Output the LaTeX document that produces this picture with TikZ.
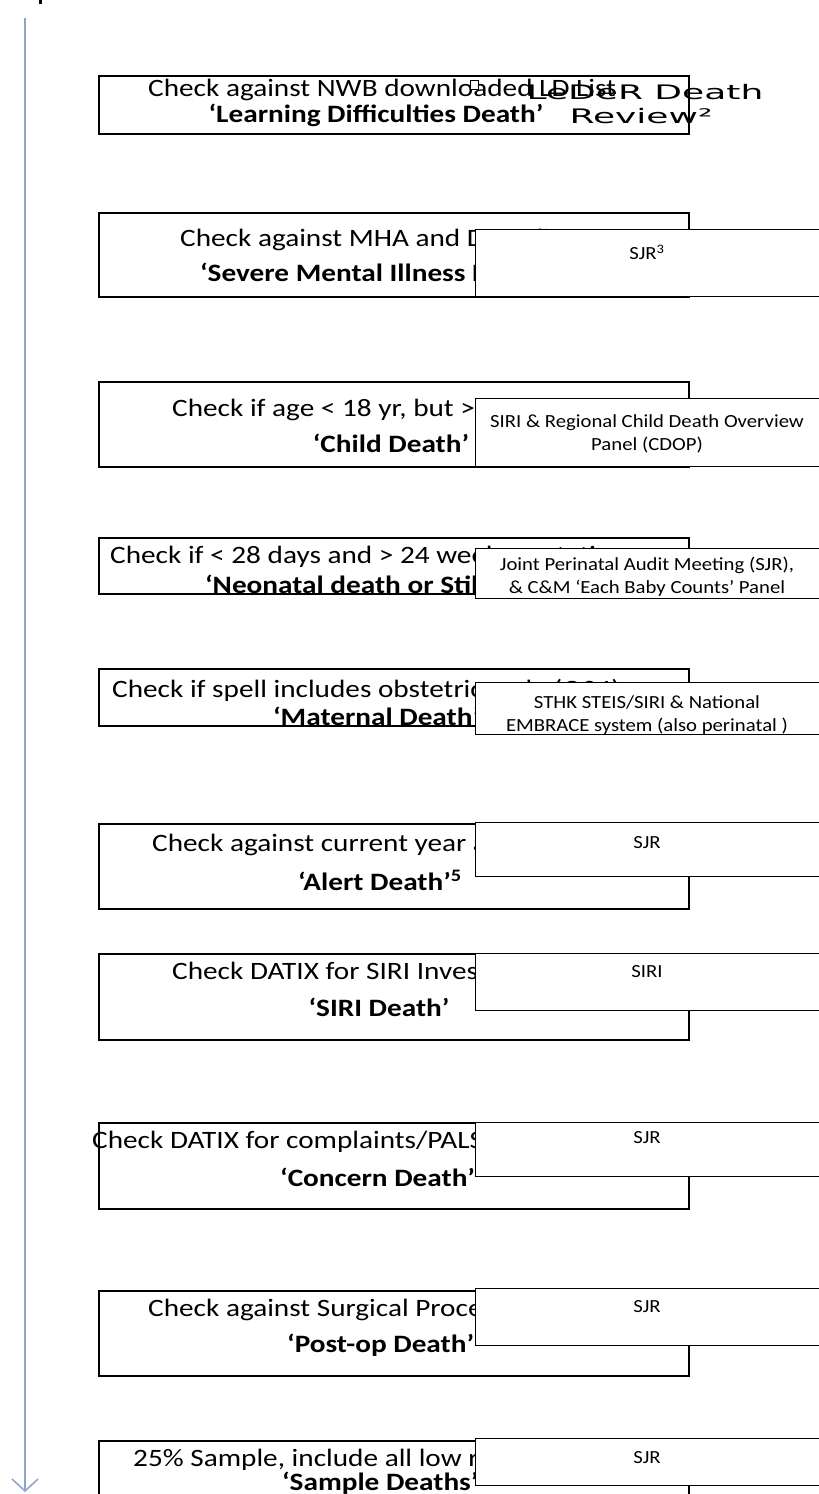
\documentclass[tikz,border=0pt]{standalone}
\usepackage{fontspec}
\setmainfont{Carlito}
\newfontfamily\djv{DejaVu Sans}
\usetikzlibrary{arrows.meta}
\newcommand{\hs}[1]{\scalebox{1.17}[1]{#1}}
\newcommand{\rs}[1]{\scalebox{1.12}[1]{#1}}
\newcommand{\ws}[1]{\scalebox{1.8}[1]{#1}}
\begin{document}
\begin{tikzpicture}[x=1pt,y=-1pt,
  lbox/.style={draw=black, line width=1.8pt, fill=white, inner sep=0, anchor=north west, minimum width=590pt},
  rbox/.style={draw=black, line width=1.3pt, fill=white, inner sep=0, anchor=north west, minimum width=346pt},
  ltxt/.style={font=\fontsize{25}{29}\selectfont, inner sep=0, anchor=west},
  btxt/.style={font=\fontsize{25}{29}\selectfont\bfseries, inner sep=0},
  rtxt/.style={font=\fontsize{18.5}{23}\selectfont, inner sep=0, align=center},
  wtxt/.style={font=\djv\fontsize{20}{24}\selectfont, inner sep=0}]
\useasboundingbox (0,0) rectangle (819,1494);
% cut-off mark at top left
\fill[black] (38.5,0) rectangle (41.5,4);
% timeline arrow
\coordinate (top) at (25,18);
\coordinate (bot) at (25,1492);
\draw[line width=2.6pt, draw={rgb,255:red,140;green,165;blue,200}, -{Straight Barb[length=12pt,width=26pt,line width=1.5pt]}] (top) -- (bot);
% 1
\node[lbox, minimum height=58pt] (b1) at (98,75) {};
\node[ltxt] (b1a) at (148,90) {\hs{Check against NWB downloaded LD List}};
\node[btxt] (b1b) at (376,115) {\hs{‘Learning Difficulties Death’}};
\node[draw=black, line width=0.8pt, fill=white, minimum width=8pt, minimum height=9pt, inner sep=0] (sq) at (474,85) {};
\node[wtxt] (l1a) at (645,92) {\ws{LeDeR Death}};
\node[wtxt] (l1b) at (641,116) {\ws{Review²}};
% 2
\node[lbox, minimum height=84pt] (b2) at (98,212) {};
\node[ltxt] (b2a) at (180,240) {\hs{Check against MHA and DOLS list}};
\node[btxt, anchor=west] (b2b) at (200,272) {\hs{‘Severe Mental Illness Death’}};
\node[rbox, minimum height=67pt] (r2) at (475,229) {};
\node[rtxt] (r2a) at (647,252) {\rs{SJR\textsuperscript{3}}};
% 3
\node[lbox, minimum height=85pt] (b3) at (98,381) {};
\node[ltxt] (b3a) at (172,410) {\hs{Check if age < 18 yr, but > 28 days}};
\node[btxt] (b3b) at (391,443) {\hs{‘Child Death’}};
\node[rbox, minimum height=68pt] (r3) at (475,398) {};
\node[rtxt] (r3a) at (647,434) {\rs{SIRI \& Regional Child Death Overview}\\\rs{Panel (CDOP)}};
% 4
\node[lbox, minimum height=56pt] (b4) at (98,537) {};
\node[ltxt] (b4a) at (110,557) {\hs{Check if < 28 days and > 24 weeks gestation}};
\node[btxt, anchor=west] (b4b) at (205,584) {\hs{‘Neonatal death or Stillbirth’}};
\node[rbox, minimum height=50pt] (r4) at (475,548) {};
\node[rtxt] (r4a) at (647,577) {\rs{Joint Perinatal Audit Meeting (SJR),}\\\rs{\& C\&M ‘Each Baby Counts’ Panel}};
% 5
\node[lbox, minimum height=57pt] (b5) at (98,668) {};
\node[ltxt] (b5a) at (112,690) {\hs{Check if spell includes obstetric code (O34)}};
\node[btxt, anchor=west] (b5b) at (273,716) {\hs{‘Maternal Death’}};
\node[rbox, minimum height=52pt] (r5) at (475,682) {};
\node[rtxt] (r5a) at (647,715) {\rs{STHK STEIS/SIRI \& National}\\\rs{EMBRACE system (also perinatal )}};
% 6
\node[lbox, minimum height=85pt] (b6) at (98,823) {};
\node[ltxt] (b6a) at (152,845) {\hs{Check against current year alert list}};
\node[btxt] (b6b) at (380,880) {\hs{‘Alert Death’\textsuperscript{5}}};
\node[rbox, minimum height=54pt] (r6) at (475,822) {};
\node[rtxt] (r6a) at (647,843) {\rs{SJR}};
% 7
\node[lbox, minimum height=86pt] (b7) at (98,953) {};
\node[ltxt] (b7a) at (172,973) {\hs{Check DATIX for SIRI Investigation}};
\node[btxt] (b7b) at (379,1007) {\hs{‘SIRI Death’}};
\node[rbox, minimum height=57pt] (r7) at (475,953) {};
\node[rtxt] (r7a) at (647,972) {\rs{SIRI}};
% 8
\node[lbox, minimum height=86pt] (b8) at (98,1122) {};
\node[ltxt] (b8a) at (92,1142) {\hs{Check DATIX for complaints/PALS concerns}};
\node[btxt, anchor=west] (b8b) at (280,1177) {\hs{‘Concern Death’}};
\node[rbox, minimum height=54pt] (r8) at (475,1122) {};
\node[rtxt] (r8a) at (647,1138) {\rs{SJR}};
% 9
\node[lbox, minimum height=85pt] (b9) at (98,1290) {};
\node[ltxt] (b9a) at (148,1310) {\hs{Check against Surgical Procedures list}};
\node[btxt, anchor=west] (b9b) at (287,1345) {\hs{‘Post-op Death’}};
\node[rbox, minimum height=57pt] (r9) at (475,1288) {};
\node[rtxt] (r9a) at (647,1307) {\rs{SJR}};
% 10
\node[lbox, minimum height=90pt] (b10) at (98,1440) {};
\node[ltxt] (b10a) at (133,1460) {\hs{25\% Sample, include all low risk deaths}};
\node[btxt, anchor=west] (b10b) at (282,1483) {\hs{‘Sample Deaths’}};
\node[rbox, minimum height=47pt] (r10) at (475,1438) {};
\node[rtxt] (r10a) at (647,1458) {\rs{SJR}};
\end{tikzpicture}
\end{document}
